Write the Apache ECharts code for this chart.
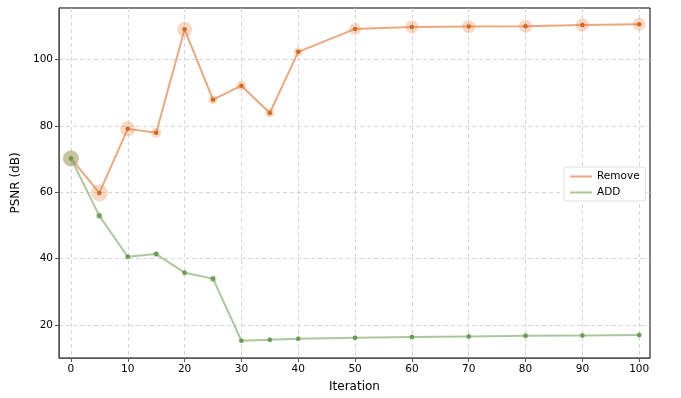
<!DOCTYPE html>
<html>
<head>
<meta charset="utf-8">
<script src="https://cdn.jsdelivr.net/npm/echarts@6/dist/echarts.min.js"></script>
<style>html,body{margin:0;padding:0;background:#fff}#c{width:681px;height:398px}</style>
</head>
<body>
<div id="c"></div>
<script>
const iterations = [0, 5, 10, 15, 20, 25, 30, 35, 40, 50, 60, 70, 80, 90, 100];
const removePSNR = [70.2, 59.8, 79.1, 77.9, 109.1, 87.9, 92.1, 83.9, 102.3, 109.2, 109.8, 109.9, 110.0, 110.4, 110.6];
const addPSNR = [70.2, 52.9, 40.6, 41.4, 35.8, 34.0, 15.3, 15.6, 15.9, 16.2, 16.4, 16.6, 16.8, 16.9, 17.0];
const removeMarker = [16, 17, 15, 10, 15, 9, 10, 9, 9, 12, 13, 13, 13, 13, 13];
const addMarker = [16, 7, 5, 6, 5, 7, 5, 5, 5, 5, 5, 5, 5, 5, 5];
const xTicks = [0, 10, 20, 30, 40, 50, 60, 70, 80, 90, 100];
const yTicks = [20, 40, 60, 80, 100];

const font = 'DejaVu Sans';
const pairs = (ys) => iterations.map((x, i) => [x, ys[i]]);
const sized = (ys, s) => iterations.map((x, i) => ({value: [x, ys[i]], symbolSize: s[i]}));
const orangeLine = 'rgba(226,130,70,0.7)';
const greenLine = 'rgba(135,175,115,0.7)';

const chart = echarts.init(document.getElementById('c'));
chart.setOption({
  animation: false,
  grid: {left: 59, right: 31, top: 8, bottom: 37, show: true, borderColor: '#000', borderWidth: 1},
  xAxis: {
    type: 'value', min: -2.1, max: 101.9,
    name: 'Iteration', nameLocation: 'middle', nameGap: 23,
    nameTextStyle: {fontFamily: font, fontSize: 12, color: '#000'},
    axisLine: {show: true, onZero: false, lineStyle: {color: '#555'}},
    axisTick: {show: true, length: 4, lineStyle: {color: '#555'}, customValues: xTicks},
    axisLabel: {fontFamily: font, fontSize: 10.5, color: '#000', margin: 6, customValues: xTicks},
    splitLine: {show: true, lineStyle: {color: '#ccc', type: [4, 3], width: 0.8}}
  },
  yAxis: {
    type: 'value', min: 10.1, max: 115.5,
    name: 'PSNR (dB)', nameLocation: 'middle', nameGap: 35,
    nameTextStyle: {fontFamily: font, fontSize: 12, color: '#000'},
    axisLine: {show: true, onZero: false, lineStyle: {color: '#555'}},
    axisTick: {show: true, length: 4, lineStyle: {color: '#555'}, customValues: yTicks},
    axisLabel: {fontFamily: font, fontSize: 10.5, color: '#000', margin: 6, customValues: yTicks},
    splitLine: {show: true, lineStyle: {color: '#ccc', type: [4, 3], width: 0.8}}
  },
  legend: {
    data: [
      {name: 'Remove', icon: 'rect', itemStyle: {color: orangeLine}},
      {name: 'ADD', icon: 'rect', itemStyle: {color: greenLine}}
    ],
    orient: 'vertical', left: 564, top: 167,
    itemWidth: 22, itemHeight: 2, itemGap: 5,
    backgroundColor: '#fff', borderColor: '#ddd', borderWidth: 1, borderRadius: 3,
    padding: [4, 6, 3, 6],
    textStyle: {fontFamily: font, fontSize: 10.5, color: '#000'}
  },
  series: [
    {name: 'RemoveBig', type: 'scatter', data: sized(removePSNR, removeMarker), symbol: 'circle',
     itemStyle: {color: 'rgba(232,140,80,0.42)'}, z: 2},
    {name: 'Remove', type: 'line', data: pairs(removePSNR), symbol: 'circle', symbolSize: 4.5, showSymbol: true,
     lineStyle: {color: orangeLine, width: 2}, itemStyle: {color: '#d2691e', borderWidth: 0}, z: 3},
    {name: 'AddBig', type: 'scatter', data: sized(addPSNR, addMarker), symbol: 'circle',
     itemStyle: {color: 'rgba(120,160,90,0.45)'}, z: 4},
    {name: 'ADD', type: 'line', data: pairs(addPSNR), symbol: 'circle', symbolSize: 4.5, showSymbol: true,
     lineStyle: {color: greenLine, width: 2}, itemStyle: {color: '#6a9a55', borderWidth: 0}, z: 5}
  ]
});
</script>
</body>
</html>
